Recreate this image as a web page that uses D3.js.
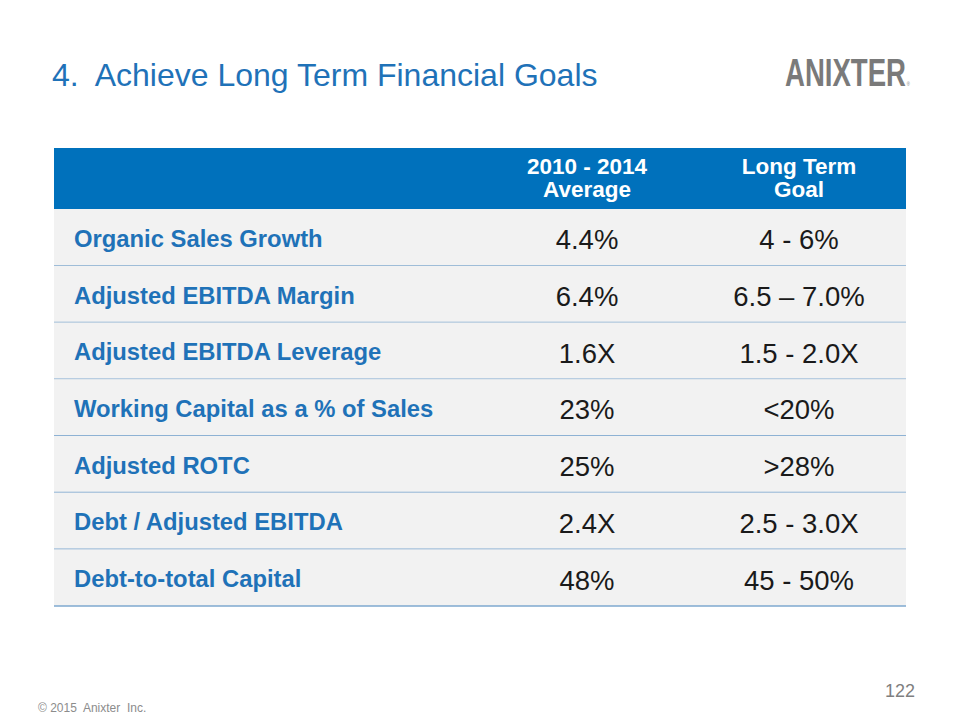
<!DOCTYPE html>
<html><head><meta charset="utf-8">
<script src="https://cdn.jsdelivr.net/npm/d3@7"></script>
<style>body{margin:0;background:#fff}svg{display:block}</style>
</head><body>
<script>
const title = "4.  Achieve Long Term Financial Goals";
const headerCol2 = ["2010 - 2014", "Average"];
const headerCol3 = ["Long Term", "Goal"];
const metrics = ["Organic Sales Growth","Adjusted EBITDA Margin","Adjusted EBITDA Leverage","Working Capital as a % of Sales","Adjusted ROTC","Debt / Adjusted EBITDA","Debt-to-total Capital"];
const averages = ["4.4%","6.4%","1.6X","23%","25%","2.4X","48%"];
const goals = ["4 - 6%","6.5 \u2013 7.0%","1.5 - 2.0X","<20%",">28%","2.5 - 3.0X","45 - 50%"];

const W = 960, H = 720;
const svg = d3.select("body").append("svg").attr("width", W).attr("height", H);
const font = "'Liberation Sans', Arial, sans-serif";

svg.append("text").attr("x", 52).attr("y", 86).attr("font-family", font)
  .attr("font-size", 32).attr("fill", "#1F72B8").attr("xml:space","preserve").text(title);

// logo (word mark + registered sign in one text element, horizontally scaled)
const logo = svg.append("text").attr("font-family", font).attr("font-weight", "900")
  .attr("font-size", 39).attr("fill", "#7A7A7A");
logo.append("tspan").text("ANIXTER");
const natW = logo.node().getComputedTextLength();
logo.append("tspan").attr("font-size", 6).attr("font-weight", "normal").attr("dx", 1).text("®");
const sx = 121 / natW;
logo.attr("transform", `translate(785,86) scale(${sx},1)`);

const x0 = 54, x1 = 906;
const headerTop = 148, headerBot = 209;
const y = d3.scaleBand().domain(d3.range(metrics.length)).range([209, 606]).padding(0);
const colX = [74, 587, 799];

svg.append("rect").attr("x", x0).attr("y", headerTop).attr("width", x1 - x0).attr("height", headerBot - headerTop).attr("fill", "#0071BC");
[[headerCol2, colX[1]], [headerCol3, colX[2]]].forEach(([lines, cx]) => {
  lines.forEach((t, i) => {
    svg.append("text").attr("x", cx).attr("y", 174 + i * 23).attr("text-anchor", "middle")
      .attr("font-family", font).attr("font-weight", "bold").attr("font-size", 22.5).attr("fill", "#fff").text(t);
  });
});

const rows = svg.append("g").selectAll("g").data(metrics).join("g")
  .attr("transform", (d, i) => `translate(0,${y(i)})`);
rows.append("rect").attr("x", x0).attr("width", x1 - x0).attr("height", y.bandwidth()).attr("fill", "#F2F2F2");
rows.append("line").attr("x1", x0).attr("x2", x1).attr("y1", y.bandwidth()).attr("y2", y.bandwidth())
  .attr("stroke", "#7EA8CF").attr("stroke-width", 1.5);
rows.append("text").attr("x", colX[0]).attr("y", y.bandwidth() / 2 + 9.5).attr("font-family", font)
  .attr("font-weight", "bold").attr("font-size", 23.8).attr("fill", "#1F72B8").text(d => d);
rows.append("text").attr("x", colX[1]).attr("y", y.bandwidth() / 2 + 12).attr("text-anchor", "middle")
  .attr("font-family", font).attr("font-size", 27.5).attr("fill", "#1a1a1a").text((d, i) => averages[i]);
rows.append("text").attr("x", colX[2]).attr("y", y.bandwidth() / 2 + 12).attr("text-anchor", "middle")
  .attr("font-family", font).attr("font-size", 27.5).attr("fill", "#1a1a1a").text((d, i) => goals[i]);

svg.append("text").attr("x", 915).attr("y", 697).attr("text-anchor", "end").attr("font-family", font)
  .attr("font-size", 18).attr("fill", "#7F7F7F").text("122");
svg.append("text").attr("x", 38).attr("y", 712).attr("font-family", font)
  .attr("font-size", 12).attr("fill", "#8C8C8C").attr("xml:space","preserve").text("© 2015  Anixter  Inc.");
</script>
</body></html>
